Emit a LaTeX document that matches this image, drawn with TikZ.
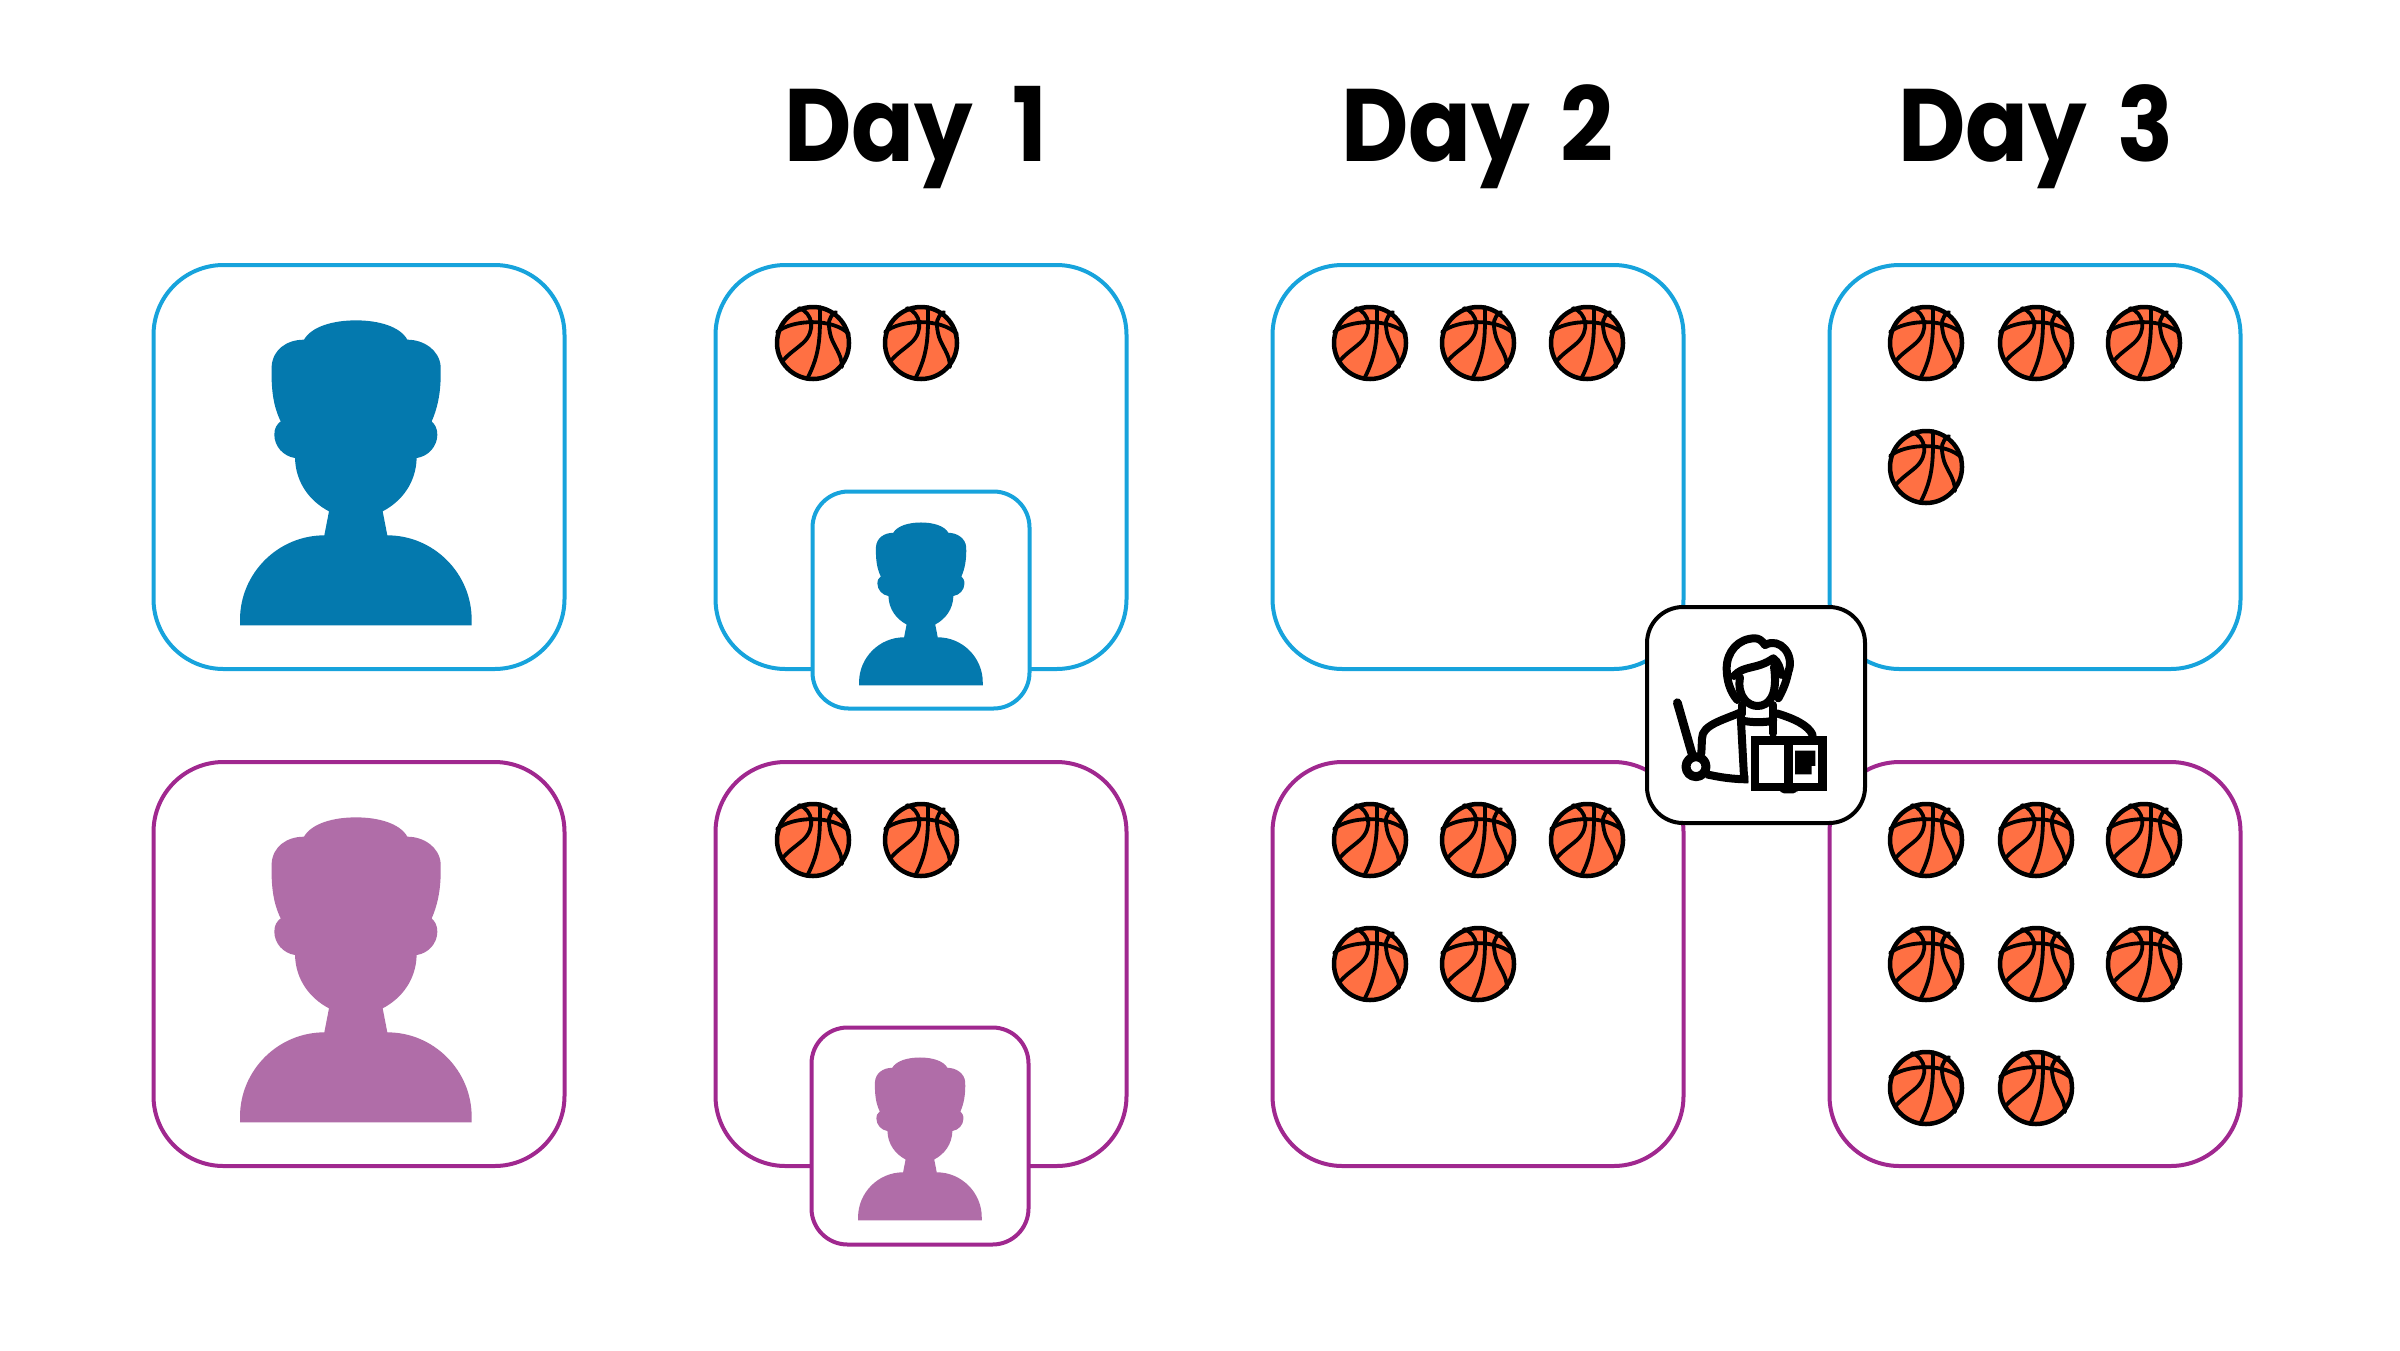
\documentclass[tikz,border=0pt]{standalone}
\usepackage{fontspec}
\setmainfont{Poppins}[BoldFont={Poppins Bold},BoldFeatures={FakeStretch=0.9}]
\definecolor{bluestroke}{HTML}{17A3DC}
\definecolor{bluefill}{HTML}{0479AE}
\definecolor{purplestroke}{HTML}{A0288F}
\definecolor{purplefill}{HTML}{B06DA8}
\definecolor{ballfill}{HTML}{FF7043}
\tikzset{
  x=1pt,y=-1pt,
  panel/.style={draw=#1,line width=4pt,fill=white,rounded corners=70pt,minimum width=411pt,minimum height=404pt,inner sep=0pt,outer sep=0pt},
  inset/.style={draw=#1,line width=4pt,fill=white,rounded corners=36pt,minimum width=217pt,minimum height=217pt,inner sep=0pt,outer sep=0pt},
  teacherbox/.style={draw=black,line width=4pt,fill=white,rounded corners=36pt,minimum width=218pt,minimum height=216pt,inner sep=0pt,outer sep=0pt},
  daylabel/.style={anchor=base west,inner sep=0pt,outer sep=0pt,font=\fontsize{103pt}{110pt}\selectfont\bfseries,text=black},
  ink/.style={draw=black,line width=8pt,line cap=round,line join=round},
  pics/person/.style={code={
    \fill[#1] (-348,457) -- (-348,440) .. controls (-348,301) and (-234,187) .. (-95,187)
      -- (-81,115) .. controls (-138,85) and (-181,30) .. (-183,-45)
      .. controls (-218,-50) and (-245,-80) .. (-245,-115)
      .. controls (-245,-135) and (-238,-145) .. (-226,-155)
      .. controls (-248,-200) and (-255,-250) .. (-253,-320)
      .. controls (-250,-370) and (-208,-400) .. (-156,-400)
      .. controls (-133,-440) and (-68,-458) .. (0,-458)
      .. controls (67,-458) and (132,-440) .. (154,-400)
      .. controls (202,-400) and (250,-370) .. (254,-320)
      .. controls (256,-250) and (247,-200) .. (227,-155)
      .. controls (237,-145) and (244,-135) .. (244,-115)
      .. controls (244,-80) and (217,-50) .. (182,-45)
      .. controls (180,30) and (137,85) .. (80,115)
      -- (94,187) .. controls (233,187) and (347,301) .. (347,440)
      -- (347,457) -- cycle;
  }},
  pics/ball/.style={code={
    \filldraw[fill=ballfill,draw=black,line width=4.5pt] (0,0) circle[radius=36pt];
    \draw[black,line width=3.8pt,line cap=round]
      (-36,-11) .. controls (-20,-24) and (20,-25) .. (36,-9)
      (-14,-35) .. controls (0,-30) and (3,-12) .. (-10,0) .. controls (-18,7) and (-26,12) .. (-31,19)
      (7,-36) .. controls (7,-10) and (8,10) .. (-6,36)
      (23,-31) .. controls (15,-26) and (15,-20) .. (17,-10) .. controls (19,2) and (29,10) .. (29,24);
  }},
}
\begin{document}
\begin{tikzpicture}
\useasboundingbox (0,0) rectangle (2400,1350);
% day labels
\node[daylabel] (day1) at (784,161) {Day\hspace{20pt} 1};
\node[daylabel] (day2) at (1341,161) {Day\hspace{11pt} 2};
\node[daylabel] (day3) at (1898,161) {Day\hspace{11pt} 3};
% panels
\node[panel=bluestroke] (b0) at (359,467) {};
\node[panel=bluestroke] (b1) at (921,467) {};
\node[panel=bluestroke] (b2) at (1478,467) {};
\node[panel=bluestroke] (b3) at (2035,467) {};
\node[panel=purplestroke] (p0) at (359,964) {};
\node[panel=purplestroke] (p1) at (921,964) {};
\node[panel=purplestroke] (p2) at (1478,964) {};
\node[panel=purplestroke] (p3) at (2035,964) {};
% insets
\node[inset=bluestroke] (bi) at (921,600) {};
\node[inset=purplestroke] (pi) at (920,1136) {};
% people
\pic[scale=.3333] at (356,473) {person=bluefill};
\pic[scale=.3333] at (356,970) {person=purplefill};
\pic[scale=.178] at (921,604) {person=bluefill};
\pic[scale=.178] at (920,1139) {person=purplefill};
% balls
\foreach \p in {(813,343),(921,343),
                (1370,343),(1478,343),(1587,343),
                (1926,343),(2036,343),(2144,343),(1926,467),
                (813,840),(921,840),
                (1370,840),(1478,840),(1587,840),(1370,964),(1478,964),
                (1926,840),(2036,840),(2144,840),(1926,964),(2036,964),(2144,964),(1926,1088),(2036,1088)}
  \pic at \p {ball};
% teacher
\node[teacherbox] (t) at (1756,715) {};
\begin{scope}[shift={(1630,590)},scale=.3333]
  \draw[ink,line width=8.7pt] (142,338) -- (187,495);
  \draw[ink,line width=9pt] (198,530) circle[radius=30];
  % hair and head
  \draw[ink] (322,330) .. controls (300,305) and (290,270) .. (290,235) .. controls (290,185) and (325,145) .. (375,145) .. controls (385,145) and (395,150) .. (405,165);
  \draw[ink] (405,165) .. controls (450,140) and (495,195) .. (475,245) .. controls (470,270) and (462,295) .. (445,325);
  \draw[ink] (312,258) .. controls (340,225) and (380,240) .. (430,205) .. controls (445,215) and (450,235) .. (455,255);
  \draw[ink] (330,262) .. controls (320,320) and (355,348) .. (382,348) .. controls (415,348) and (445,320) .. (432,230);
  % collar and body
  \draw[ink] (335,345) -- (335,372);
  \draw[ink] (430,345) -- (430,430);
  \draw[ink] (338,392) .. controls (365,398) and (405,398) .. (430,392);
  \draw[ink] (330,368) .. controls (280,390) and (216,405) .. (216,445) -- (214,490);
  \draw[ink,line cap=butt] (332,375) -- (343,578);
  \draw[ink,line cap=butt] (230,553) .. controls (270,562) and (310,568) .. (355,568);
  \draw[ink] (440,370) .. controls (490,385) and (535,405) .. (548,435);
  % book
  \fill[black] (362,437) rectangle (590,604);
  \fill[black,rounded corners=4pt] (450,595) rectangle (502,610);
  \fill[white] (388,465) rectangle (462,578);
  \fill[white] (490,465) rectangle (563,578);
  \fill[black] (495,482) -- (556,482) -- (556,528) -- (545,528) -- (545,553) -- (495,553) -- cycle;
\end{scope}
\end{tikzpicture}
\end{document}
